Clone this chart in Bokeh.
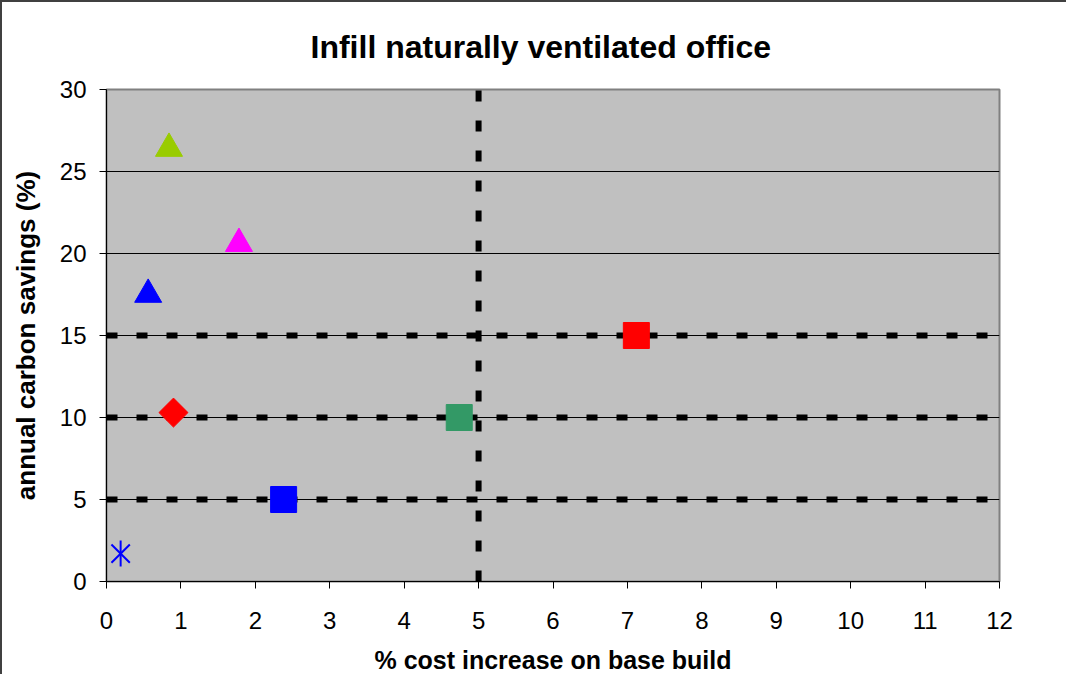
import math
from bokeh.plotting import figure
from bokeh.models import Range1d, FixedTicker, Title
from bokeh.embed import file_html
from bokeh.resources import INLINE

# ---- data ----
cost_increase = [0.19, 0.56, 0.84, 1.78, 0.90, 2.38, 4.74, 7.12]
carbon_savings = [1.7, 17.5, 26.4, 20.6, 10.3, 5.0, 10.0, 15.0]
markers = ["asterisk", "triangle", "triangle", "triangle", "diamond", "square", "square", "square"]
colors = ["#0000FF", "#0000FF", "#99CC00", "#FF00FF", "#FF0000", "#0000FF", "#339966", "#FF0000"]
x_ticks = list(range(0, 13))
y_ticks = [0, 5, 10, 15, 20, 25, 30]
h_thresholds = [5, 10, 15]
v_threshold = 5
title_text = "Infill naturally ventilated office"

FONT = "Liberation Sans"
X_MIN, X_MAX, Y_MIN, Y_MAX = 0, 12, 0, 30

p = figure(width=1066, height=674, output_backend="svg", toolbar_location=None,
           x_range=Range1d(X_MIN, X_MAX), y_range=Range1d(Y_MIN, Y_MAX),
           min_border_left=104, min_border_right=69, min_border_top=87, min_border_bottom=93)
p.background_fill_color = "#C0C0C0"
p.border_fill_color = "white"
p.outline_line_color = "#808080"
p.outline_line_width = 2

p.title = Title(text=title_text, align="left", offset=204, standoff=49,
                text_font=FONT, text_font_size="32px", text_font_style="bold",
                text_color="black")

# grid
p.xgrid.visible = False
p.ygrid.ticker = FixedTicker(ticks=y_ticks)
p.ygrid.grid_line_color = "black"
p.ygrid.grid_line_width = 1

# axes
xa = p.below[0]
ya = p.left[0]
for ax in (xa, ya):
    ax.axis_line_color = "black"
    ax.axis_line_width = 1
    ax.major_tick_line_color = "black"
    ax.major_tick_in = 0
    ax.major_tick_out = 7
    ax.minor_tick_line_color = None
    ax.major_label_text_font = FONT
    ax.major_label_text_font_size = "24px"
    ax.major_label_text_color = "black"
    ax.axis_label_text_font = FONT
    ax.axis_label_text_font_style = "bold"
    ax.axis_label_text_color = "black"

xa.ticker = FixedTicker(ticks=x_ticks)
ya.ticker = FixedTicker(ticks=y_ticks)
xa.axis_label = "% cost increase on base build"
ya.axis_label = "annual carbon savings (%)"
xa.axis_label_text_font_size = "25px"
ya.axis_label_text_font_size = "26px"
xa.major_label_standoff = 23
ya.major_label_standoff = 13
xa.axis_label_standoff = 14
ya.axis_label_standoff = 16

# dashed threshold lines
for yv in h_thresholds:
    p.line([X_MIN, X_MAX], [yv, yv], line_color="black", line_width=6, line_dash="11 19")
p.line([v_threshold, v_threshold], [Y_MIN, Y_MAX], line_color="black", line_width=6, line_dash="11 19")

# points
for x, y, m, c in zip(cost_increase, carbon_savings, markers, colors):
    if m == "asterisk":
        p.scatter([x], [y], marker="x", size=26, line_color=c, line_width=2)
        p.scatter([x], [y], marker="dash", angle=math.pi / 2, size=26, line_color=c, line_width=2)
    elif m == "triangle":
        p.scatter([x], [y], marker="triangle", size=27, fill_color=c, line_color=c)
    elif m == "diamond":
        p.scatter([x], [y], marker="square", angle=math.pi / 4, size=20.5, fill_color=c, line_color=c)
    else:
        p.scatter([x], [y], marker="square", size=26, fill_color=c, line_color=c)

p.styles = {"border-left": "2px solid #404040", "border-top": "2px solid #404040"}

open("out.html", "w").write(file_html(p, INLINE))
